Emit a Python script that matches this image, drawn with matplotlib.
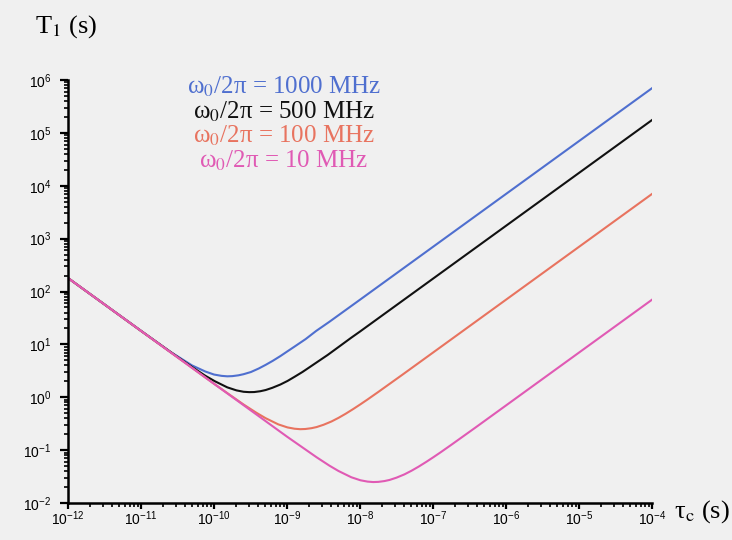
import matplotlib
matplotlib.use("Agg")
import matplotlib.pyplot as plt
from matplotlib.ticker import FixedLocator, LogFormatterMathtext, NullFormatter

plt.rcParams['font.family'] = ['Liberation Sans', 'DejaVu Sans']
plt.rcParams['mathtext.fontset'] = 'stix'

# values: tau_c (s) and T1 (s)
tau_1000 = [1e-12, 1e-11, 2.5e-11, 5e-11, 7.6e-11, 1e-10, 1.27e-10, 1.52e-10, 1.78e-10, 2.16e-10,
            2.54e-10, 3.2e-10, 4.1e-10, 5.1e-10, 6.4e-10, 8.1e-10, 1e-9, 1.27e-9, 1.8e-9, 2.5e-9,
            3.8e-9, 1e-8, 1e-7, 1e-6, 1e-5, 1e-4]
t1_1000 = [180, 18.1, 7.3, 4.0, 3.07, 2.69, 2.54, 2.49, 2.51, 2.6,
           2.73, 3.0, 3.5, 4.1, 4.9, 6.0, 7.3, 9.1, 12.6, 17.9,
           26.7, 70, 700, 7.0e3, 7.0e4, 7.0e5]

tau_500 = [1e-12, 1e-11, 3e-11, 5.1e-11, 7.6e-11, 1.02e-10, 1.52e-10, 2.03e-10, 2.54e-10, 3.04e-10,
           3.55e-10, 4.3e-10, 5.1e-10, 6.3e-10, 8.1e-10, 1.02e-9, 1.27e-9, 1.63e-9, 2.03e-9, 2.54e-9,
           3.6e-9, 5.1e-9, 7.6e-9, 1e-8, 1e-7, 1e-6, 1e-5, 1e-4]
t1_500 = [180, 18, 6.1, 3.67, 2.55, 2.02, 1.54, 1.35, 1.27, 1.25,
          1.255, 1.30, 1.37, 1.51, 1.74, 2.04, 2.44, 3.01, 3.69, 4.55,
          6.3, 8.95, 13.4, 17.5, 175, 1.75e3, 1.75e4, 1.75e5]

tau_100 = [1e-12, 1e-11, 1e-10, 2.54e-10, 3.81e-10, 5.08e-10, 7.6e-10, 1.015e-9, 1.27e-9, 1.52e-9,
           1.78e-9, 2.16e-9, 2.54e-9, 3.17e-9, 4.06e-9, 5.08e-9, 6.35e-9, 8.12e-9, 1.015e-8, 1.27e-8,
           1.78e-8, 2.54e-8, 3.81e-8, 1e-7, 1e-6, 1e-5, 1e-4]
t1_100 = [180, 18, 1.8, 0.73, 0.509, 0.403, 0.307, 0.269, 0.254, 0.249,
          0.251, 0.26, 0.273, 0.302, 0.348, 0.408, 0.487, 0.602, 0.737, 0.909,
          1.26, 1.79, 2.67, 7.0, 70, 700, 7.0e3]

tau_10 = [1e-12, 1e-11, 1e-10, 1e-9, 2.54e-9, 3.81e-9, 5.08e-9, 7.6e-9, 1.015e-8, 1.27e-8,
          1.52e-8, 1.78e-8, 2.16e-8, 2.54e-8, 3.17e-8, 4.06e-8, 5.08e-8, 6.35e-8, 8.12e-8, 1.015e-7,
          1.27e-7, 1.78e-7, 2.54e-7, 3.81e-7, 1e-6, 1e-5, 1e-4]
t1_10 = [180, 18, 1.8, 0.18, 0.0734, 0.0509, 0.0403, 0.0307, 0.0269, 0.0254,
         0.0249, 0.0251, 0.026, 0.0273, 0.0302, 0.0348, 0.0408, 0.0487, 0.0602, 0.0737,
         0.0909, 0.126, 0.179, 0.267, 0.70, 7.0, 70]

labels = ['ω$_0$/2π = 1000 MHz', 'ω$_0$/2π = 500 MHz',
          'ω$_0$/2π = 100 MHz', 'ω$_0$/2π = 10 MHz']
colors = ['#4f6fcf', '#111111', '#e8735f', '#e05ab4']

x_major = [10.0 ** e for e in range(-12, -3)]
y_major = [10.0 ** e for e in range(-2, 7)]
x_minor = [m * 10.0 ** e for e in range(-12, -4) for m in range(2, 10)]
y_minor = [m * 10.0 ** e for e in range(-2, 6) for m in range(2, 10)]

fig = plt.figure(figsize=(7.32, 5.40), dpi=100, facecolor='#f0f0f0')
ax = fig.add_axes([0.0929, 0.0685, 0.7978, 0.7833], facecolor='#f0f0f0')

ax.plot(tau_1000, t1_1000, color=colors[0], lw=1.5)
ax.plot(tau_500, t1_500, color=colors[1], lw=1.5)
ax.plot(tau_100, t1_100, color=colors[2], lw=1.5)
ax.plot(tau_10, t1_10, color=colors[3], lw=1.5)

ax.set_xscale('log')
ax.set_yscale('log')
ax.set_xlim(1e-12, 1e-4)
ax.set_ylim(1e-2, 1e6)

ax.xaxis.set_major_locator(FixedLocator(x_major))
ax.yaxis.set_major_locator(FixedLocator(y_major))
ax.xaxis.set_minor_locator(FixedLocator(x_minor))
ax.yaxis.set_minor_locator(FixedLocator(y_minor))
ax.xaxis.set_major_formatter(LogFormatterMathtext())
ax.yaxis.set_major_formatter(LogFormatterMathtext())
ax.xaxis.set_minor_formatter(NullFormatter())
ax.yaxis.set_minor_formatter(NullFormatter())

for s in ['top', 'right']:
    ax.spines[s].set_visible(False)
for s in ['left', 'bottom']:
    ax.spines[s].set_linewidth(1.8)

ax.tick_params(which='major', direction='out', width=1.6, labelsize=10)
ax.tick_params(which='minor', direction='out', length=3, width=1.2)
ax.tick_params(axis='x', which='major', length=4, pad=0.5)
ax.tick_params(axis='y', which='major', length=6, pad=6)

## coloured labels of the four curves
for i, (lab, c) in enumerate(zip(labels, colors)):
    fig.text(284 / 732, 1 - (87 + 24.5 * i) / 540, lab, color=c, ha='center', va='center',
             fontsize=18, family='Liberation Serif')

fig.text(35 / 732, 1 - 27 / 540, 'T$_1$ (s)', fontsize=19, family='Liberation Serif',
         ha='left', va='center')
fig.text(674 / 732, 1 - 512 / 540, r'τ$_\mathrm{c}$ (s)', fontsize=19, family='Liberation Serif',
         ha='left', va='center')

fig.savefig('out.png', dpi=100, facecolor=fig.get_facecolor())
